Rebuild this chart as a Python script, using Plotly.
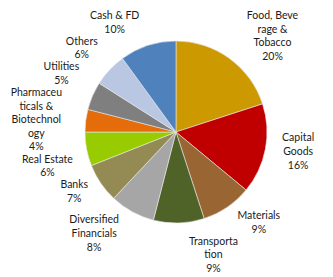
import plotly.graph_objects as go

labels = ["Food, Beve<br>rage &<br>Tobacco", "Capital<br>Goods", "Materials",
          "Transporta<br>tion", "Diversified<br>Financials", "Banks", "Real Estate",
          "Pharmaceu<br>ticals &<br>Biotechnol<br>ogy", "Utilities", "Others", "Cash & FD"]
values = [20, 16, 9, 9, 8, 7, 6, 4, 5, 6, 10]
colors = ["#CC9900", "#C00000", "#996633", "#4F6228", "#A6A6A6", "#948A54",
          "#99CC00", "#E46C0A", "#7F7F7F", "#B9C7E3", "#4F81BD"]

TEXT_COLOR = "#1a1a1a"
# the page body has an 8px margin, so the figure is drawn 8px smaller
W, H = 325, 269

fig = go.Figure()
# coloured slices
fig.add_trace(go.Pie(
    labels=labels, values=values, sort=False, direction="clockwise", rotation=0,
    marker=dict(colors=colors, line=dict(color="#E8E8E8", width=0.6)),
    textinfo="none", showlegend=False, hoverinfo="none", automargin=False,
    domain=dict(x=[0.2369, 0.7969], y=[0.2007, 0.8773]),
))
# invisible larger pie that carries the outside labels (leader lines drawn in white)
fig.add_trace(go.Pie(
    labels=labels, values=values, sort=False, direction="clockwise", rotation=0,
    marker=dict(colors=["rgba(0,0,0,0)"] * len(values), line=dict(width=0)),
    textposition="outside", automargin=False,
    texttemplate="<span style='color:" + TEXT_COLOR + "'>%{label}<br>%{percent:.0%}</span>",
    outsidetextfont=dict(family="Lato", size=10.5, color="#ffffff"),
    showlegend=False, hoverinfo="none",
    domain=dict(x=[0.2154, 0.8185], y=[0.1747, 0.9033]),
))
fig.update_layout(width=W, height=H,
                  margin=dict(l=0, r=0, t=0, b=0, pad=0, autoexpand=False),
                  paper_bgcolor="white", plot_bgcolor="white")
fig.write_html("out.html")
